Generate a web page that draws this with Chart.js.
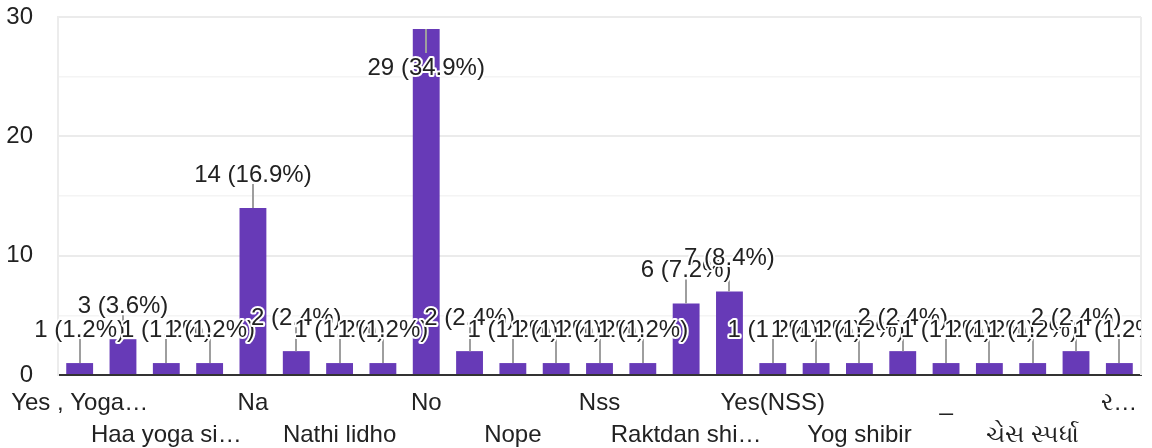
<!DOCTYPE html>
<html>
<head>
<meta charset="utf-8">
<style>
html,body{margin:0;padding:0;background:#fff;}
#wrap{width:1152px;height:448px;}
</style>
<script src="https://cdn.jsdelivr.net/npm/chart.js@4/dist/chart.umd.min.js"></script>
</head>
<body>
<div id="wrap"><canvas id="c" width="1152" height="448"></canvas></div>
<script>
const categories = ['Yes , Yoga…', 'Haa', 'Haa yoga si…', 'Haa, yoga', 'Na', 'Na.', 'Nathi lidho', 'Nhi', 'No', 'No.', 'Nope', 'Not', 'Nss', 'Nss camp', 'Raktdan shi…', 'Yes', 'Yes(NSS)', 'Yoga', 'Yog shibir', 'Yoga day', '_', 'ચેસ', 'ચેસ સ્પર્ધા', 'રમત', 'ર…'];
const counts = [1, 3, 1, 1, 14, 2, 1, 1, 29, 2, 1, 1, 1, 1, 6, 7, 1, 1, 1, 2, 1, 1, 1, 2, 1];
const yTickLabels = [0, 10, 20, 30];

const FONT = '"Liberation Sans", Arial, "Noto Sans", sans-serif';
const total = counts.reduce((a, b) => a + b, 0);

const annotPlugin = {
  id: 'annot',
  afterDatasetsDraw(chart) {
    const { ctx, chartArea } = chart;
    const meta = chart.getDatasetMeta(0);
    ctx.save();
    ctx.beginPath();
    ctx.rect(0, 0, chartArea.right, chart.height);
    ctx.clip();
    const items = meta.data.map((bar, i) => {
      const up = (bar.y - 26 - 18) >= chartArea.top;
      return { bar, i, up };
    });
    ctx.strokeStyle = '#9e9e9e';
    ctx.lineWidth = 2;
    items.forEach(({ bar, up }) => {
      ctx.beginPath();
      ctx.moveTo(Math.round(bar.x), bar.y);
      ctx.lineTo(Math.round(bar.x), up ? bar.y - 24 : bar.y + 24);
      ctx.stroke();
    });
    ctx.font = '24px ' + FONT;
    ctx.textAlign = 'center';
    ctx.textBaseline = 'alphabetic';
    ctx.lineJoin = 'round';
    items.forEach(({ bar, i, up }) => {
      const v = counts[i];
      const txt = v + ' (' + (v / total * 100).toFixed(1) + '%)';
      const y = up ? bar.y - 26 : bar.y + 46;
      ctx.strokeStyle = '#ffffff';
      ctx.lineWidth = 4;
      ctx.strokeText(txt, bar.x, y);
      ctx.fillStyle = '#222222';
      ctx.fillText(txt, bar.x, y);
    });
    ctx.restore();
  }
};

const framePlugin = {
  id: 'frame',
  beforeDatasetsDraw(chart) {
    const { ctx, chartArea } = chart;
    ctx.save();
    ctx.strokeStyle = '#ececec';
    ctx.lineWidth = 2;
    ctx.beginPath();
    ctx.moveTo(chartArea.right, chartArea.top);
    ctx.lineTo(chartArea.right, chartArea.bottom);
    ctx.stroke();
    ctx.restore();
  }
};

new Chart(document.getElementById('c').getContext('2d'), {
  type: 'bar',
  data: {
    labels: categories,
    datasets: [{
      data: counts,
      backgroundColor: '#673ab7',
      categoryPercentage: 1,
      barPercentage: 0.62
    }]
  },
  options: {
    responsive: false,
    animation: false,
    devicePixelRatio: 1,
    layout: { padding: { left: 0, right: 11, top: 17, bottom: 0 } },
    plugins: { legend: { display: false }, tooltip: { enabled: false } },
    scales: {
      x: {
        grid: {
          display: true,
          drawOnChartArea: false,
          drawTicks: true,
          tickLength: 12,
          tickColor: 'rgba(0,0,0,0)',
          color: 'rgba(0,0,0,0)'
        },
        border: { display: true, color: '#333333', width: 2 },
        ticks: {
          autoSkip: false,
          maxRotation: 0,
          minRotation: 0,
          padding: 0,
          color: '#222222',
          font: { family: FONT, size: 24, lineHeight: 1.333 },
          callback(v, i) {
            if (i % 2) return '';
            const l = this.getLabelForValue(v);
            return (i / 2) % 2 ? ['', l] : l;
          }
        },
        afterFit(s) { s.height = 73; }
      },
      y: {
        min: 0,
        max: 30,
        ticks: {
          stepSize: 5,
          padding: 0,
          color: '#222222',
          font: { family: FONT, size: 24 },
          callback(v) { return yTickLabels.includes(v) ? String(v) : ''; }
        },
        grid: {
          drawTicks: true,
          tickLength: 25,
          tickColor: 'rgba(0,0,0,0)',
          color(c) {
            const v = c.tick ? c.tick.value : 0;
            if (v === 0) return 'rgba(0,0,0,0)';
            return v % 10 === 0 ? '#ebebeb' : '#f4f4f4';
          },
          lineWidth(c) {
            const v = c.tick ? c.tick.value : 0;
            return v % 10 === 0 ? 2 : 1.5;
          }
        },
        border: { display: true, color: '#ececec', width: 2 },
        afterFit(s) { s.width = 58; }
      }
    }
  },
  plugins: [framePlugin, annotPlugin]
});
</script>
</body>
</html>
